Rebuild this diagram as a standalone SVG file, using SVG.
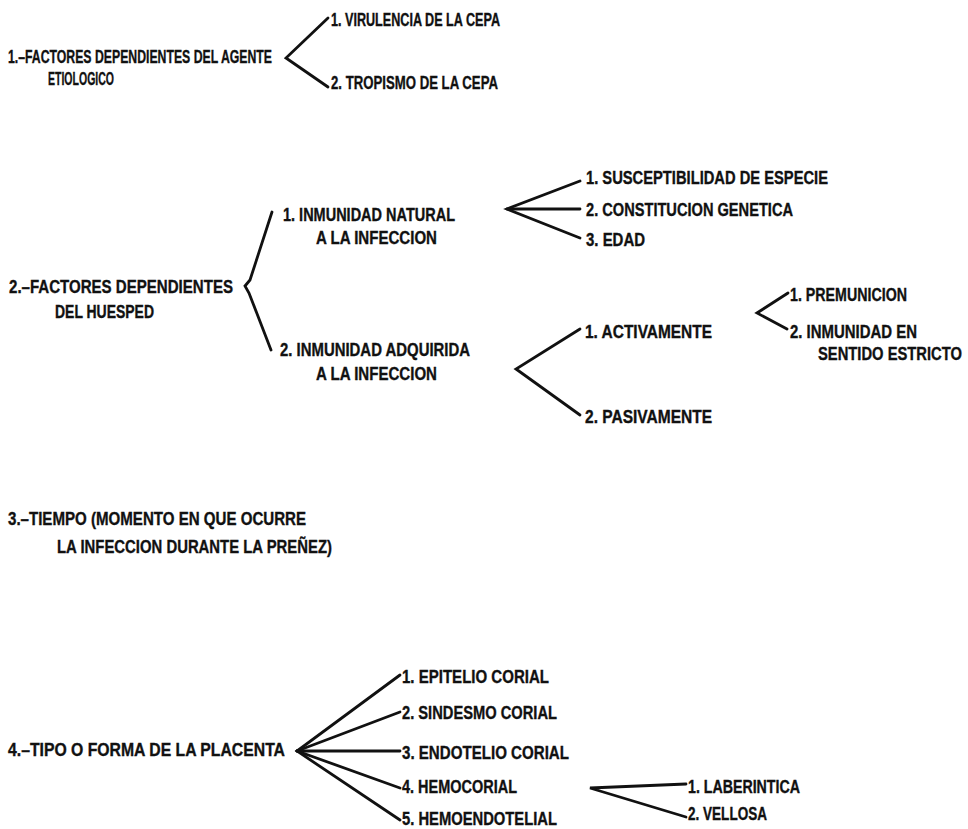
<svg xmlns="http://www.w3.org/2000/svg" width="968" height="829" viewBox="0 0 968 829">
<style>
text{font-family:"Liberation Sans",Arial,sans-serif;font-weight:bold;font-size:18px;fill:#111;stroke:#111;stroke-width:0.35;}
.c{fill:none;stroke:#111;stroke-width:2.8;stroke-linecap:round;stroke-linejoin:miter;}
</style>
<rect width="968" height="829" fill="#fff"/>
<g id="connectors">
<polyline class="c" points="328,18 286,58 328,87"/>
<polyline class="c" points="272,212 250,280 245,286 249,293 271,350"/>
<polyline class="c" points="580,181 507,209 580,238"/>
<line class="c" x1="507" y1="209" x2="580" y2="209"/>
<polyline class="c" points="580,329 516,369 580,415"/>
<polyline class="c" points="788,293 757,313 787,329"/>
<polyline class="c" points="400,675 297,751 400,820"/>
<line class="c" x1="297" y1="751" x2="400" y2="712"/>
<line class="c" x1="297" y1="751" x2="400" y2="751"/>
<line class="c" x1="297" y1="751" x2="400" y2="788"/>
<polyline class="c" points="686,784 590,788 686,817"/>
</g>
<g id="n1"><text x="8" y="63" textLength="264" lengthAdjust="spacingAndGlyphs">1.–FACTORES DEPENDIENTES DEL AGENTE</text><text x="48" y="85" textLength="66" lengthAdjust="spacingAndGlyphs">ETIOLOGICO</text></g>
<g id="n1-1"><text x="331" y="26" textLength="169" lengthAdjust="spacingAndGlyphs">1. VIRULENCIA DE LA CEPA</text></g>
<g id="n1-2"><text x="331" y="89" textLength="167" lengthAdjust="spacingAndGlyphs">2. TROPISMO DE LA CEPA</text></g>
<g id="n2"><text x="9" y="293" textLength="224" lengthAdjust="spacingAndGlyphs">2.–FACTORES DEPENDIENTES</text><text x="55" y="318" textLength="99" lengthAdjust="spacingAndGlyphs">DEL HUESPED</text></g>
<g id="n2-1"><text x="283" y="221" textLength="172" lengthAdjust="spacingAndGlyphs">1. INMUNIDAD NATURAL</text><text x="316" y="244" textLength="121" lengthAdjust="spacingAndGlyphs">A LA INFECCION</text></g>
<g id="n2-1-1"><text x="586" y="184" textLength="242" lengthAdjust="spacingAndGlyphs">1. SUSCEPTIBILIDAD DE ESPECIE</text></g>
<g id="n2-1-2"><text x="586" y="216" textLength="207" lengthAdjust="spacingAndGlyphs">2. CONSTITUCION GENETICA</text></g>
<g id="n2-1-3"><text x="586" y="246" textLength="59" lengthAdjust="spacingAndGlyphs">3. EDAD</text></g>
<g id="n2-2"><text x="280" y="356" textLength="190" lengthAdjust="spacingAndGlyphs">2. INMUNIDAD ADQUIRIDA</text><text x="316" y="380" textLength="121" lengthAdjust="spacingAndGlyphs">A LA INFECCION</text></g>
<g id="n2-2-1"><text x="585" y="338" textLength="127" lengthAdjust="spacingAndGlyphs">1. ACTIVAMENTE</text></g>
<g id="n2-2-2"><text x="585" y="423" textLength="127" lengthAdjust="spacingAndGlyphs">2. PASIVAMENTE</text></g>
<g id="n2-2-1-1"><text x="790" y="301" textLength="117" lengthAdjust="spacingAndGlyphs">1. PREMUNICION</text></g>
<g id="n2-2-1-2"><text x="790" y="338" textLength="127" lengthAdjust="spacingAndGlyphs">2. INMUNIDAD EN</text><text x="818" y="360" textLength="144" lengthAdjust="spacingAndGlyphs">SENTIDO ESTRICTO</text></g>
<g id="n3"><text x="8" y="525" textLength="298" lengthAdjust="spacingAndGlyphs">3.–TIEMPO (MOMENTO EN QUE OCURRE</text><text x="57" y="553" textLength="275" lengthAdjust="spacingAndGlyphs">LA INFECCION DURANTE LA PREÑEZ)</text></g>
<g id="n4"><text x="8" y="756" textLength="277" lengthAdjust="spacingAndGlyphs">4.–TIPO O FORMA DE LA PLACENTA</text></g>
<g id="n4-1"><text x="402" y="683" textLength="147" lengthAdjust="spacingAndGlyphs">1. EPITELIO CORIAL</text></g>
<g id="n4-2"><text x="402" y="719" textLength="155" lengthAdjust="spacingAndGlyphs">2. SINDESMO CORIAL</text></g>
<g id="n4-3"><text x="402" y="759" textLength="167" lengthAdjust="spacingAndGlyphs">3. ENDOTELIO CORIAL</text></g>
<g id="n4-4"><text x="402" y="793" textLength="115" lengthAdjust="spacingAndGlyphs">4. HEMOCORIAL</text></g>
<g id="n4-5"><text x="402" y="825" textLength="155" lengthAdjust="spacingAndGlyphs">5. HEMOENDOTELIAL</text></g>
<g id="n4-4-1"><text x="688" y="793" textLength="112" lengthAdjust="spacingAndGlyphs">1. LABERINTICA</text></g>
<g id="n4-4-2"><text x="688" y="820" textLength="79" lengthAdjust="spacingAndGlyphs">2. VELLOSA</text></g>
</svg>
